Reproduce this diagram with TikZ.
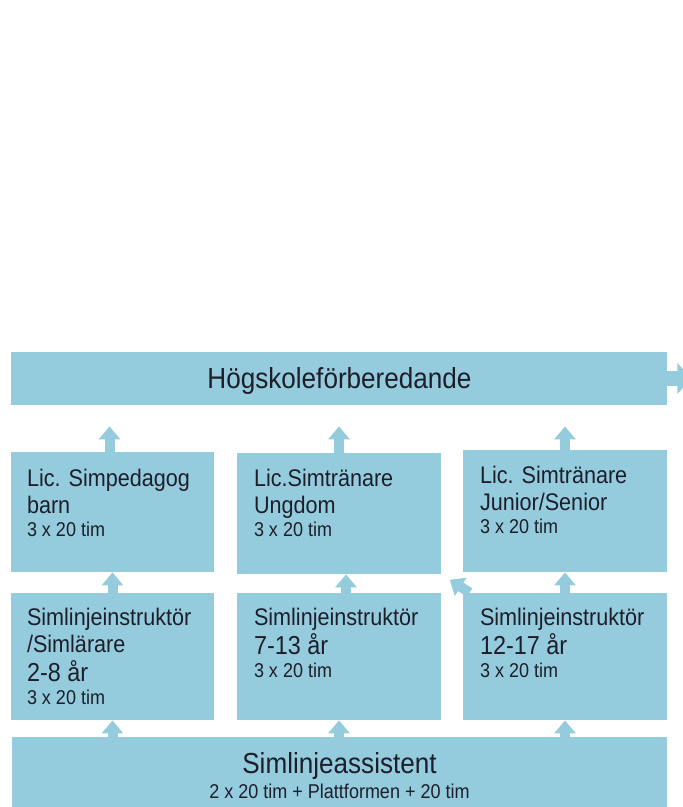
\documentclass[tikz,border=0pt]{standalone}
\usepackage{fontspec}
\setmainfont{Liberation Sans}[FakeStretch=0.9]
\definecolor{simblue}{RGB}{148, 204, 222}
\definecolor{simtext}{RGB}{30, 30, 42}
\newcommand{\timfont}{\fontsize{10}{11.5}\selectfont}
\newcommand{\aldersfont}{\fontsize{13}{15}\selectfont}
\usetikzlibrary{arrows.meta}
\tikzset{
    stegbox/.style={rectangle, fill=simblue, draw=none, inner sep=0pt,
                    minimum width=101.5pt, minimum height=60pt},
    stegtext/.style={anchor=north west, inner sep=0pt, align=left, text=simtext,
                     font=\fontsize{12}{13.5}\selectfont},
    rubrik/.style={anchor=base, inner sep=0pt, text=simtext, font=\fontsize{14.5}{17}\selectfont},
    uppil/.style={-{Triangle[width=10.5pt, length=6.5pt]}, line width=5pt, simblue},
    hogerpil/.style={-{Triangle[width=15pt, length=7pt]}, line width=7.5pt, simblue},
}

\begin{document}
\begin{tikzpicture}[x=0.5pt, y=-0.5pt]
    \useasboundingbox (0,0) rectangle (683,807);

    % Top box
    \node[stegbox, minimum width=328pt, minimum height=26.5pt] (hogskola) at (339,378.5) {};
    \node[rubrik] (hogskolatext) at (339.5,388) {Högskoleförberedande};
    \coordinate (vidare) at ([xshift=12pt]hogskola.east);
    \draw[hogerpil] (hogskola.east) -- (vidare);

    % Licensed courses
    \node[stegbox] (lic1) at (112.5,512) {};
    \node[stegbox, minimum width=102pt, minimum height=60.5pt] (lic2) at (339,513.5) {};
    \node[stegbox, minimum width=102pt, minimum height=61pt] (lic3) at (565,511) {};
    \node[stegtext] (lic1text) at ([shift={(8pt,-8.5pt)}]lic1.north west)
        {Lic. Simpedagog\\barn\\[-2pt]{\timfont 3 x 20 tim}};
    \node[stegtext] (lic2text) at ([shift={(8.5pt,-8pt)}]lic2.north west)
        {Lic.Simtränare\\Ungdom\\[-2pt]{\timfont 3 x 20 tim}};
    \node[stegtext] (lic3text) at ([shift={(8.5pt,-8pt)}]lic3.north west)
        {Lic. Simtränare\\Junior/Senior\\[-2pt]{\timfont 3 x 20 tim}};

    % Instructor courses
    \node[stegbox, minimum height=63.5pt] (sim1) at (112.5,656.5) {};
    \node[stegbox, minimum width=102pt, minimum height=63.5pt] (sim2) at (339,656.5) {};
    \node[stegbox, minimum width=102pt, minimum height=63.5pt] (sim3) at (565,656.5) {};
    \node[stegtext] (sim1text) at ([shift={(8pt,-7.5pt)}]sim1.north west)
        {Simlinjeinstruktör\\/Simlärare\\[1pt]{\aldersfont 2-8 år}\\[-2pt]{\timfont 3 x 20 tim}};
    \node[stegtext] (sim2text) at ([shift={(8.5pt,-7.5pt)}]sim2.north west)
        {Simlinjeinstruktör\\[1pt]{\aldersfont 7-13 år}\\[-2pt]{\timfont 3 x 20 tim}};
    \node[stegtext] (sim3text) at ([shift={(8.5pt,-7.5pt)}]sim3.north west)
        {Simlinjeinstruktör\\[1pt]{\aldersfont 12-17 år}\\[-2pt]{\timfont 3 x 20 tim}};

    % Assistant box
    \node[stegbox, minimum width=327.5pt, minimum height=36pt] (assist) at (339.5,773) {};
    \node[rubrik] (assistnamn) at (339.5,773) {Simlinjeassistent};
    \node[rubrik, font=\timfont] (assisttim) at (339.5,798) {2 x 20 tim + Plattformen + 20 tim};

    % Arrows
    \draw[uppil, shorten >=10.5pt] ([xshift=-1.5pt]lic1.north) -- ([xshift=-1.5pt]lic1.north |- hogskola.south);
    \draw[uppil, shorten >=10.5pt] (lic2.north) -- (lic2.north |- hogskola.south);
    \draw[uppil, shorten >=10.5pt] (lic3.north) -- (lic3.north |- hogskola.south);

    \draw[uppil] (sim1.north) -- (sim1.north |- lic1.south);
    \draw[uppil] ([xshift=3.5pt]sim2.north) -- ([xshift=3.5pt]sim2.north |- lic2.south);
    \draw[uppil] (sim3.north) -- (sim3.north |- lic3.south);
    \draw[uppil, shorten >=5pt] ([xshift=3.5pt]sim3.north west) -- (lic2.south east);

    \draw[uppil] (sim1.south |- assist.north) -- (sim1.south);
    \draw[uppil] (sim2.south |- assist.north) -- (sim2.south);
    \draw[uppil] (sim3.south |- assist.north) -- (sim3.south);
\end{tikzpicture}
\end{document}
